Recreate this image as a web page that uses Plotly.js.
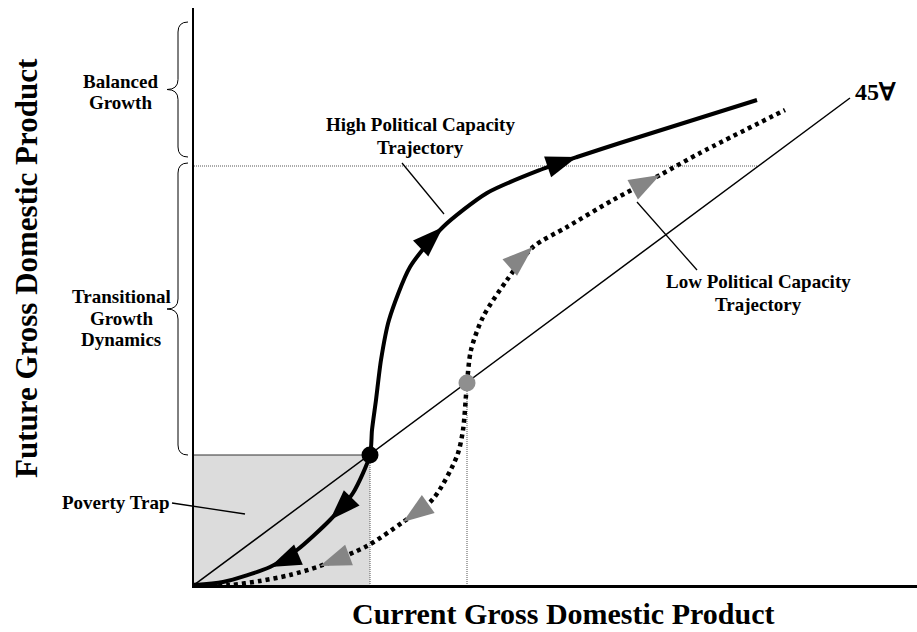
<!DOCTYPE html>
<html><head><meta charset="utf-8">
<script src="https://cdn.plot.ly/plotly-3.0.1.min.js"></script>
<style>html,body{margin:0;padding:0;background:#fff}#chart{width:917px;height:632px}</style>
</head><body><div id="chart"></div>
<script>
// Data (units: plot pixels from origin)
const highX = [0, 29, 76, 103, 136, 159, 176, 178, 182, 187, 195, 216, 249, 293, 346, 383, 426, 563];
const highY = [0, 3, 18, 35, 65, 92, 130, 155, 185, 225, 265, 318, 358, 392, 415, 428, 442, 485];
const lowX = [0, 36, 66, 96, 126, 173, 209, 239, 263, 269, 273, 277, 289, 313, 339, 373, 419, 466, 506, 591];
const lowY = [0, 0, 4, 10, 19, 39, 63, 86, 129, 155, 202, 235, 268, 305, 338, 358, 385, 410, 432, 475];
const line45X = [0, 656];
const line45Y = [0, 487];
const trapPoint = [176, 130];
const grayPoint = [273, 202];
const balancedLevel = 419;
const highArrowIdx = [2, 4, 12, 15];
const highArrowDir = [-1, -1, 1, 1];
const lowArrowIdx = [4, 6, 14, 17];
const lowArrowDir = [-1, -1, 1, 1];
const braceBalanced = [428, 563];
const braceTransitional = [130, 422];

const XR = [0, 723], YR = [0, 577];
const FONT = 'Liberation Serif, Times New Roman, serif';
const px = x => (x - XR[0]) / (XR[1] - XR[0]);
const py = y => (y - YR[0]) / (YR[1] - YR[0]);

const traces = [];
// poverty trap square
const tx = trapPoint[0], ty = trapPoint[1];
traces.push({x: [0, 0, tx, tx, 0], y: [0, ty, ty, 0, 0], mode: 'lines', fill: 'toself',
  fillcolor: '#dcdcdc', line: {width: 0}, hoverinfo: 'skip'});
traces.push({x: [0, tx], y: [ty, ty], mode: 'lines', line: {color: '#333', width: 1.2}, hoverinfo: 'skip'});
traces.push({x: [tx, tx], y: [ty, 0], mode: 'lines', line: {color: '#555', width: 1, dash: '1px,1px'}, hoverinfo: 'skip'});
// guides
const slope45 = line45Y[1] / line45X[1];
traces.push({x: [grayPoint[0], grayPoint[0]], y: [grayPoint[1], 0], mode: 'lines', line: {color: '#555', width: 1, dash: '1px,1px'}, hoverinfo: 'skip'});
traces.push({x: [0, balancedLevel / slope45], y: [balancedLevel, balancedLevel], mode: 'lines', line: {color: '#555', width: 1, dash: '1px,1px'}, hoverinfo: 'skip'});
// 45 line
traces.push({x: line45X, y: line45Y, mode: 'lines', line: {color: '#000', width: 1.5}, hoverinfo: 'skip'});
// trajectories
traces.push({x: lowX, y: lowY, mode: 'lines', line: {color: '#000', width: 4.5, dash: '4px,4px', shape: 'spline', smoothing: 0.8}, hoverinfo: 'skip'});
traces.push({x: highX, y: highY, mode: 'lines', line: {color: '#000', width: 4, shape: 'spline', smoothing: 0.7}, hoverinfo: 'skip'});

function arrow(xs, ys, i, dir, color) {
  const a = Math.max(0, i - 1), b = Math.min(xs.length - 1, i + 1);
  let ux = (xs[b] - xs[a]) * dir, uy = (ys[b] - ys[a]) * dir;
  const m = Math.hypot(ux, uy); ux /= m; uy /= m;
  const L = 31, W = 22;
  const bx = xs[i] - L * ux, by = ys[i] - L * uy;
  const nx = -uy, ny = ux;
  traces.push({x: [xs[i], bx + nx * W / 2, bx - nx * W / 2, xs[i]],
    y: [ys[i], by + ny * W / 2, by - ny * W / 2, ys[i]],
    mode: 'lines', fill: 'toself', fillcolor: color, line: {width: 0}, hoverinfo: 'skip'});
}
highArrowIdx.forEach((idx, k) => arrow(highX, highY, idx, highArrowDir[k], '#000'));
lowArrowIdx.forEach((idx, k) => arrow(lowX, lowY, idx, lowArrowDir[k], '#858585'));

// dots
traces.push({x: [trapPoint[0]], y: [trapPoint[1]], mode: 'markers', marker: {color: '#000', size: 17}, hoverinfo: 'skip'});
traces.push({x: [grayPoint[0]], y: [grayPoint[1]], mode: 'markers', marker: {color: '#8f8f8f', size: 17}, hoverinfo: 'skip'});

// braces
function brace(range, xL, xM, xR) {
  const bot = range[0], top = range[1], mid = (bot + top) / 2, r = 10;
  const P = (x, y) => px(x) + ',' + py(y);
  return {type: 'path', xref: 'paper', yref: 'paper', line: {color: '#000', width: 1},
    path: 'M' + P(xR, top) + ' Q' + P(xM, top) + ' ' + P(xM, top - r) + ' L' + P(xM, mid + r) +
      ' Q' + P(xM, mid) + ' ' + P(xL, mid) + ' Q' + P(xM, mid) + ' ' + P(xM, mid - r) +
      ' L' + P(xM, bot + r) + ' Q' + P(xM, bot) + ' ' + P(xR, bot)};
}
function seg(x0, y0, x1, y1) {
  return {type: 'line', xref: 'paper', yref: 'paper', x0: px(x0), y0: py(y0), x1: px(x1), y1: py(y1),
    line: {color: '#000', width: 1.3}};
}
const shapes = [
  brace(braceBalanced, -27, -16, -6),
  brace(braceTransitional, -27, -16, -6),
  seg(208, 422, 250, 371),
  seg(443, 383, 503, 315),
  seg(-22, 82, 51, 71)
];

const annotations = [];
function label(text, x, y, size, extra) {
  annotations.push(Object.assign({text: text, xref: 'paper', yref: 'paper', x: px(x), y: py(y), showarrow: false,
    xanchor: 'center', yanchor: 'middle', align: 'center',
    font: {family: FONT, size: size, color: '#000', weight: 'bold'}}, extra || {}));
}
function labelLines(lines, x, y, size, gap) {
  const n = lines.length;
  lines.forEach((t, k) => label(t, x, y + gap * ((n - 1) / 2 - k), size));
}
labelLines(['High Political Capacity', 'Trajectory'], 226, 449, 19, 23);
labelLines(['Low Political Capacity', 'Trajectory'], 564, 292, 19, 23);
label('Poverty Trap', -79, 83, 19);
label('45∀', 681, 493, 24);
labelLines(['Balanced', 'Growth'], -74, 493, 19, 21.5);
labelLines(['Transitional', 'Growth', 'Dynamics'], -73, 267, 19, 21.5);
label('Current Gross Domestic Product', 369, -28, 30);
label('Future Gross Domestic Product', -168, 317, 31, {textangle: -90});

const layout = {
  width: 917, height: 632, showlegend: false,
  margin: {l: 194, r: 0, t: 8, b: 47, pad: 0},
  paper_bgcolor: '#fff', plot_bgcolor: '#fff',
  xaxis: {range: XR, showline: true, linecolor: '#000', linewidth: 2.5, showgrid: false, zeroline: false,
    showticklabels: false, ticks: '', fixedrange: true},
  yaxis: {range: YR, showline: true, linecolor: '#000', linewidth: 2.5, showgrid: false, zeroline: false,
    showticklabels: false, ticks: '', fixedrange: true},
  shapes: shapes, annotations: annotations
};
Plotly.newPlot('chart', traces, layout, {staticPlot: true});
</script></body></html>
